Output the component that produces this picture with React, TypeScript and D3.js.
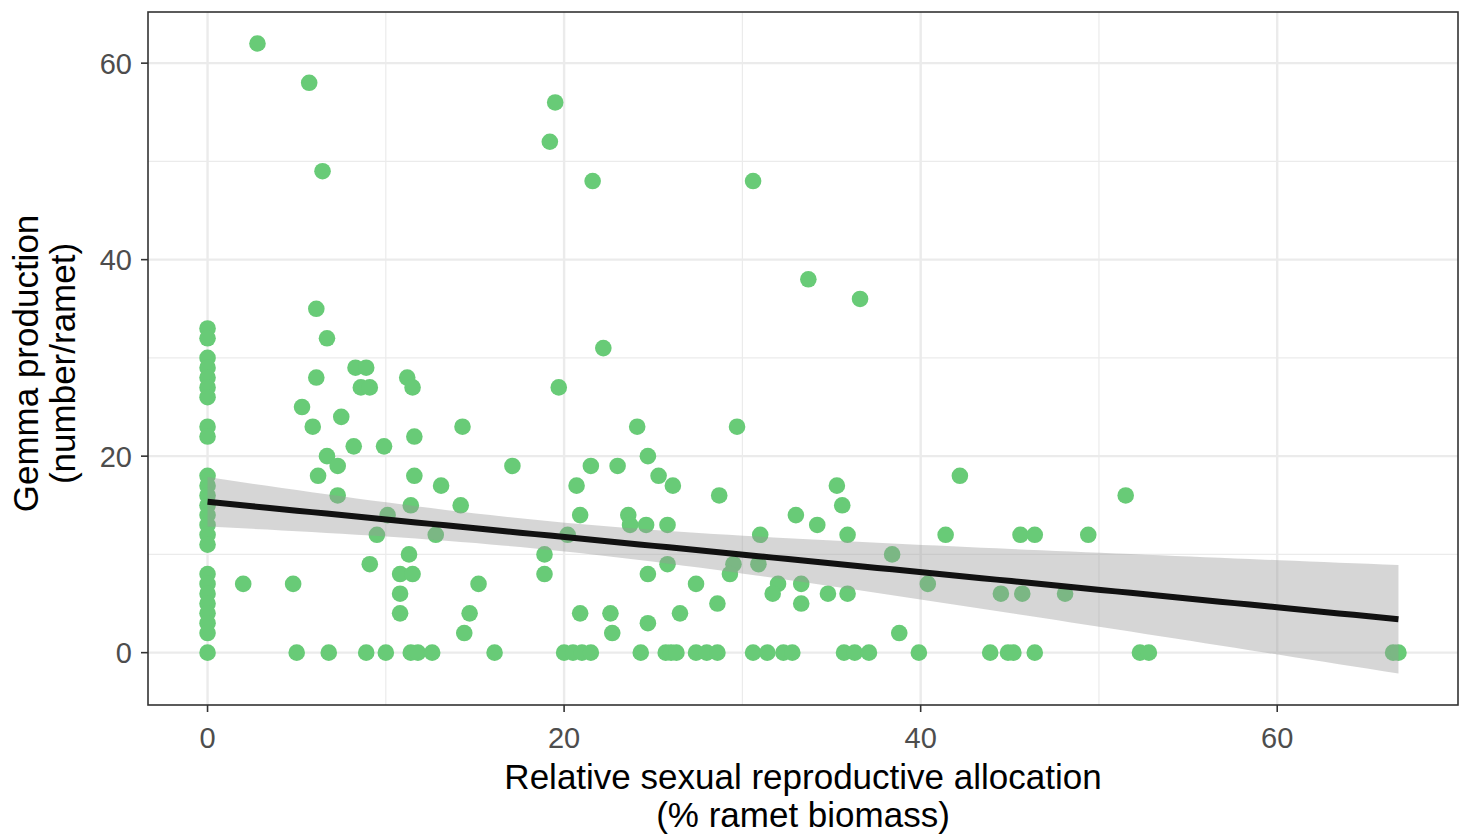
import React from "react";
import * as d3 from "d3";

// Relative sexual reproductive allocation (% ramet biomass)
const allocation: number[] = [
  // x = 0 column
  0, 0, 0, 0, 0, 0, 0, 0, 0, 0, 0, 0, 0, 0, 0, 0, 0, 0, 0, 0, 0, 0, 0, 0, 0,
  // upper outliers
  2.8, 5.7, 6.45, 19.5, 19.2, 6.1, 6.7, 21.6, 30.6, 33.7, 36.6,
  // left cluster
  8.3, 8.9, 8.6, 9.1, 6.1, 11.2, 11.5, 19.7, 5.3, 7.5, 5.9, 14.3, 11.6, 8.2, 9.9,
  6.7, 7.3, 17.1, 21.5, 6.2, 11.6, 13.1, 20.7, 7.3, 11.4, 14.2, 20.9, 10.1, 9.5,
  12.8, 20.2, 11.3, 18.9, 9.1, 10.8, 11.5, 18.9, 2.0, 4.8, 15.2, 10.8, 10.8, 14.7,
  20.9, 14.4,
  // middle cluster
  22.2, 24.1, 29.7, 24.7, 23.0, 25.3, 26.1, 28.7, 35.3, 42.2, 23.6, 23.7, 24.6,
  25.8, 33.0, 34.2, 35.6, 31.0, 35.9, 41.4, 38.4, 25.8, 29.5, 29.3, 30.9, 24.7,
  27.4, 32.0, 31.7, 33.3, 33.3, 34.8, 35.9, 28.6, 40.4, 22.6, 26.5, 22.7, 24.7, 38.8,
  // right cluster
  51.5, 45.6, 46.4, 49.4, 44.5, 45.7, 48.1,
  // zeros
  5.0, 6.8, 8.9, 10.0, 11.4, 11.8, 12.6, 16.1, 20.0, 20.5, 21.0, 21.5, 24.3, 25.7,
  26.0, 26.3, 27.4, 28.0, 28.6, 30.6, 31.4, 32.3, 32.8, 35.7, 36.3, 37.1, 39.9,
  43.9, 44.9, 45.2, 46.4, 52.3, 52.8, 66.5, 66.8,
];

// Gemma production (number/ramet)
const gemma: number[] = [
  33, 32, 30, 29, 28, 27, 26, 23, 22, 18, 17, 16, 15, 14, 13, 12, 11, 8, 7, 6, 5, 4, 3, 2, 0,
  62, 58, 49, 56, 52, 35, 32, 48, 48, 38, 36,
  29, 29, 27, 27, 28, 28, 27, 27, 25, 24, 23, 23, 22, 21, 21,
  20, 19, 19, 19, 18, 18, 17, 17, 16, 15, 15, 14, 14, 12,
  12, 12, 10, 10, 9, 8, 8, 8, 7, 7, 7, 6, 4, 4,
  4, 2,
  31, 23, 23, 20, 19, 18, 17, 16, 17, 18, 14, 13, 13,
  13, 14, 13, 15, 12, 12, 12, 10, 9, 9, 8, 9, 8,
  7, 7, 6, 7, 5, 6, 6, 5, 7, 4, 4, 2, 3, 2,
  16, 12, 12, 12, 6, 6, 6,
  0, 0, 0, 0, 0, 0, 0, 0, 0, 0, 0, 0, 0, 0,
  0, 0, 0, 0, 0, 0, 0, 0, 0, 0, 0, 0, 0,
  0, 0, 0, 0, 0, 0, 0, 0,
];

// Linear fit (as shown in the figure) and its 95% confidence band:
// half-width(x) = sqrt(bandA + bandB * (x - fitXbar)^2)
const fitIntercept = 15.35;
const fitSlope = -0.1789;
const fitXbar = 18.6;
const bandA = 2.13;
const bandB = 0.0122;

const xTicks: number[] = [0, 20, 40, 60];
const yTicks: number[] = [0, 20, 40, 60];
const xMinor: number[] = [10, 30, 50];
const yMinor: number[] = [10, 30, 50];

const xTitle = ["Relative sexual reproductive allocation", "(% ramet biomass)"];
const yTitle = ["Gemma production", "(number/ramet)"];

const W = 1469;
const H = 840;
const P = { left: 148, right: 1458, top: 12, bottom: 705 };
const FONT = "'Liberation Sans', Arial, Helvetica, sans-serif";

export default function App() {
  const pts = allocation.map((x, i) => ({ x, y: gemma[i] }));
  const [xmin, xmax] = d3.extent(pts, (d) => d.x) as [number, number];
  const fit = d3.range(0, 81).map((i) => {
    const x = xmin + ((xmax - xmin) * i) / 80;
    const yhat = fitIntercept + fitSlope * x;
    const hw = Math.sqrt(bandA + bandB * (x - fitXbar) ** 2);
    return { x, y: yhat, lo: yhat - hw, hi: yhat + hw };
  });

  const yLo = Math.min(d3.min(pts, (d) => d.y) as number, d3.min(fit, (d) => d.lo) as number);
  const yHi = Math.max(d3.max(pts, (d) => d.y) as number, d3.max(fit, (d) => d.hi) as number);
  const xPad = (xmax - xmin) * 0.05;
  const yPad = (yHi - yLo) * 0.05;

  const xs = d3.scaleLinear().domain([xmin - xPad, xmax + xPad]).range([P.left, P.right]);
  const ys = d3.scaleLinear().domain([yLo - yPad, yHi + yPad]).range([P.bottom, P.top]);

  const area = d3
    .area<{ x: number; lo: number; hi: number }>()
    .x((d) => xs(d.x))
    .y0((d) => ys(d.lo))
    .y1((d) => ys(d.hi));
  const line = d3
    .line<{ x: number; y: number }>()
    .x((d) => xs(d.x))
    .y((d) => ys(d.y));

  const midX = (P.left + P.right) / 2;
  const midY = (P.top + P.bottom) / 2 + 5;

  return (
    <svg
      width={W}
      height={H}
      style={{ position: "absolute", left: 0, top: 0, background: "#fff" }}
      fontFamily={FONT}
    >
      <rect x={0} y={0} width={W} height={H} fill="#fff" />
      {xMinor.map((v) => (
        <line key={"xm" + v} x1={xs(v)} x2={xs(v)} y1={P.top} y2={P.bottom} stroke="#EBEBEB" strokeWidth={1.2} />
      ))}
      {yMinor.map((v) => (
        <line key={"ym" + v} x1={P.left} x2={P.right} y1={ys(v)} y2={ys(v)} stroke="#EBEBEB" strokeWidth={1.2} />
      ))}
      {xTicks.map((v) => (
        <line key={"xM" + v} x1={xs(v)} x2={xs(v)} y1={P.top} y2={P.bottom} stroke="#EBEBEB" strokeWidth={2.4} />
      ))}
      {yTicks.map((v) => (
        <line key={"yM" + v} x1={P.left} x2={P.right} y1={ys(v)} y2={ys(v)} stroke="#EBEBEB" strokeWidth={2.4} />
      ))}
      {pts.map((d, i) => (
        <circle key={i} cx={xs(d.x)} cy={ys(d.y)} r={8.3} fill="#68CB77" />
      ))}
      <path d={area(fit) || ""} fill="#999999" fillOpacity={0.4} />
      <path d={line(fit) || ""} fill="none" stroke="#111111" strokeWidth={6} />
      <rect
        x={P.left}
        y={P.top}
        width={P.right - P.left}
        height={P.bottom - P.top}
        fill="none"
        stroke="#333333"
        strokeWidth={1.6}
      />
      {xTicks.map((v) => (
        <g key={"xt" + v}>
          <line x1={xs(v)} x2={xs(v)} y1={P.bottom} y2={P.bottom + 7} stroke="#333333" strokeWidth={1.6} />
          <text x={xs(v)} y={P.bottom + 43} textAnchor="middle" fontSize={29} fill="#4D4D4D">
            {v}
          </text>
        </g>
      ))}
      {yTicks.map((v) => (
        <g key={"yt" + v}>
          <line x1={P.left - 7} x2={P.left} y1={ys(v)} y2={ys(v)} stroke="#333333" strokeWidth={1.6} />
          <text x={P.left - 16} y={ys(v) + 10.5} textAnchor="end" fontSize={29} fill="#4D4D4D">
            {v}
          </text>
        </g>
      ))}
      <text x={midX} y={789} textAnchor="middle" fontSize={35} fill="#000">
        {xTitle[0]}
      </text>
      <text x={midX} y={827} textAnchor="middle" fontSize={35} fill="#000">
        {xTitle[1]}
      </text>
      <text transform={`translate(38,${midY}) rotate(-90)`} textAnchor="middle" fontSize={35} fill="#000">
        {yTitle[0]}
      </text>
      <text transform={`translate(75,${midY}) rotate(-90)`} textAnchor="middle" fontSize={35} fill="#000">
        {yTitle[1]}
      </text>
    </svg>
  );
}
